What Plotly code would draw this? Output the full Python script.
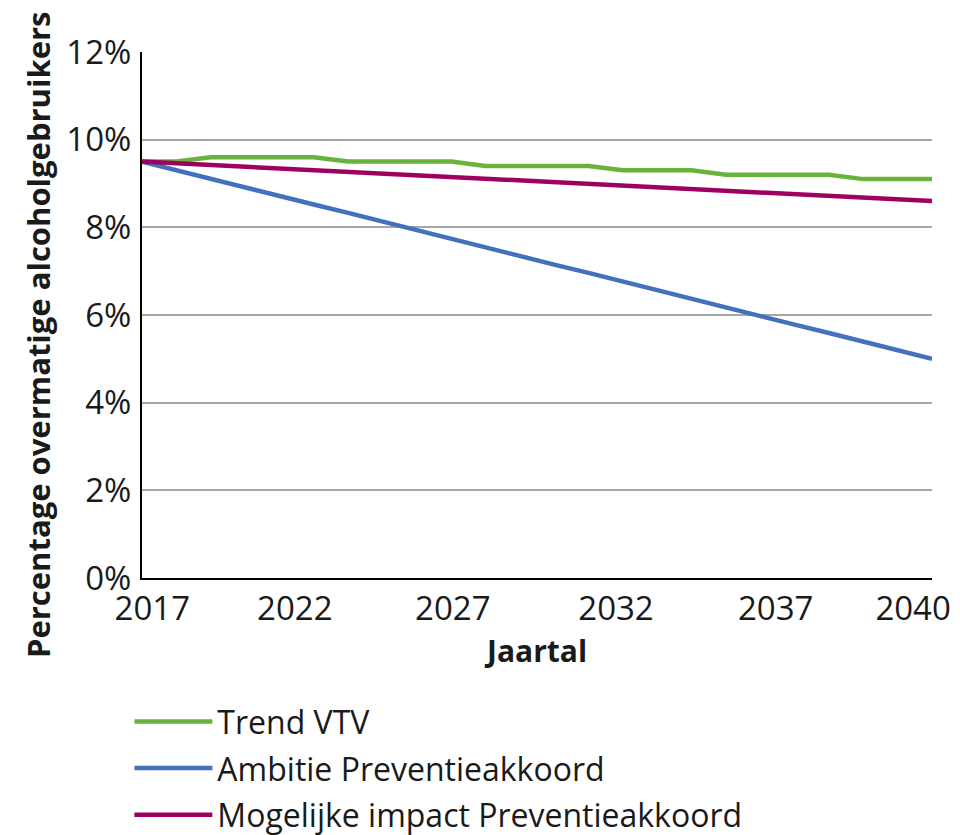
import plotly.graph_objects as go

years = list(range(2017, 2041))
trend_vtv = [9.5, 9.5, 9.6, 9.6, 9.6, 9.6, 9.5, 9.5, 9.5, 9.5, 9.4, 9.4,
             9.4, 9.4, 9.3, 9.3, 9.3, 9.2, 9.2, 9.2, 9.2, 9.1, 9.1, 9.1]
ambitie = [9.50, 9.30, 9.11, 8.91, 8.72, 8.52, 8.33, 8.13, 7.93, 7.74, 7.54, 7.35,
           7.15, 6.96, 6.76, 6.57, 6.37, 6.17, 5.98, 5.78, 5.59, 5.39, 5.20, 5.00]
impact = [9.50, 9.46, 9.42, 9.38, 9.34, 9.30, 9.27, 9.23, 9.19, 9.15, 9.11, 9.07,
          9.03, 8.99, 8.95, 8.91, 8.87, 8.83, 8.79, 8.76, 8.72, 8.68, 8.64, 8.60]
series_names = ["Trend VTV", "Ambitie Preventieakkoord", "Mogelijke impact Preventieakkoord"]
x_tick_text = ["2017", "2022", "2027", "2032", "2037", "2040"]
y_tick_vals = [0, 2, 4, 6, 8, 10, 12]
y_tick_text = ["0%", "2%", "4%", "6%", "8%", "10%", "12%"]

# where the original figure prints its year labels along the axis
x_label_pos = [2017.3, 2021.45, 2026.05, 2030.8, 2035.45, 2039.45]

colors = ["#69b23c", "#4470bd", "#9e0062"]
FONT = "Open Sans"
TXT = "#1a1a1a"

fig = go.Figure()
for i, (name, vals, col) in enumerate(zip(series_names, [trend_vtv, ambitie, impact], colors)):
    fig.add_trace(go.Scatter(x=years, y=vals, mode="lines", name=name,
                             legendgroup=f"g{i}",
                             line=dict(color=col, width=4.5)))

# the page adds an 8px body margin, so the figure is 8px smaller on each axis
fig.update_layout(
    width=952, height=827,
    margin=dict(l=134, r=28, t=44, b=257, autoexpand=False),
    paper_bgcolor="white", plot_bgcolor="white",
    font=dict(family=FONT, size=33, color=TXT),
    showlegend=True,
    legend=dict(x=-0.016, xanchor="left", y=-0.2208, yanchor="top",
                font=dict(family=FONT, size=32, color=TXT),
                itemwidth=78, bgcolor="rgba(0,0,0,0)", borderwidth=0,
                tracegroupgap=2),
    xaxis=dict(range=[years[0], years[-1]], tickvals=x_label_pos, ticktext=x_tick_text,
               showgrid=False, zeroline=False, showline=True, linecolor="black",
               linewidth=2, ticks="", ticklabelstandoff=0, automargin=False,
               ticklabeloverflow="allow",
               tickfont=dict(family=FONT, size=33, color=TXT),
               title=dict(text="Jaartal", standoff=6,
                          font=dict(family=FONT, size=30, color=TXT, weight="bold"))),
    yaxis=dict(range=[0, 12], tickvals=y_tick_vals, ticktext=y_tick_text,
               showgrid=True, gridcolor="#a6a6a6", gridwidth=1.5,
               zeroline=False, showline=True, linecolor="black", linewidth=2,
               ticks="", ticklabelstandoff=2, automargin=False,
               tickfont=dict(family=FONT, size=33, color=TXT)),
    annotations=[dict(text="<b>Percentage overmatige alcoholgebruikers</b>",
                      textangle=-90, xref="paper", yref="paper",
                      x=-0.1316, y=0.462, xanchor="center", yanchor="middle",
                      showarrow=False,
                      font=dict(family=FONT, size=31, color=TXT))],
)

fig.write_html("out.html")
